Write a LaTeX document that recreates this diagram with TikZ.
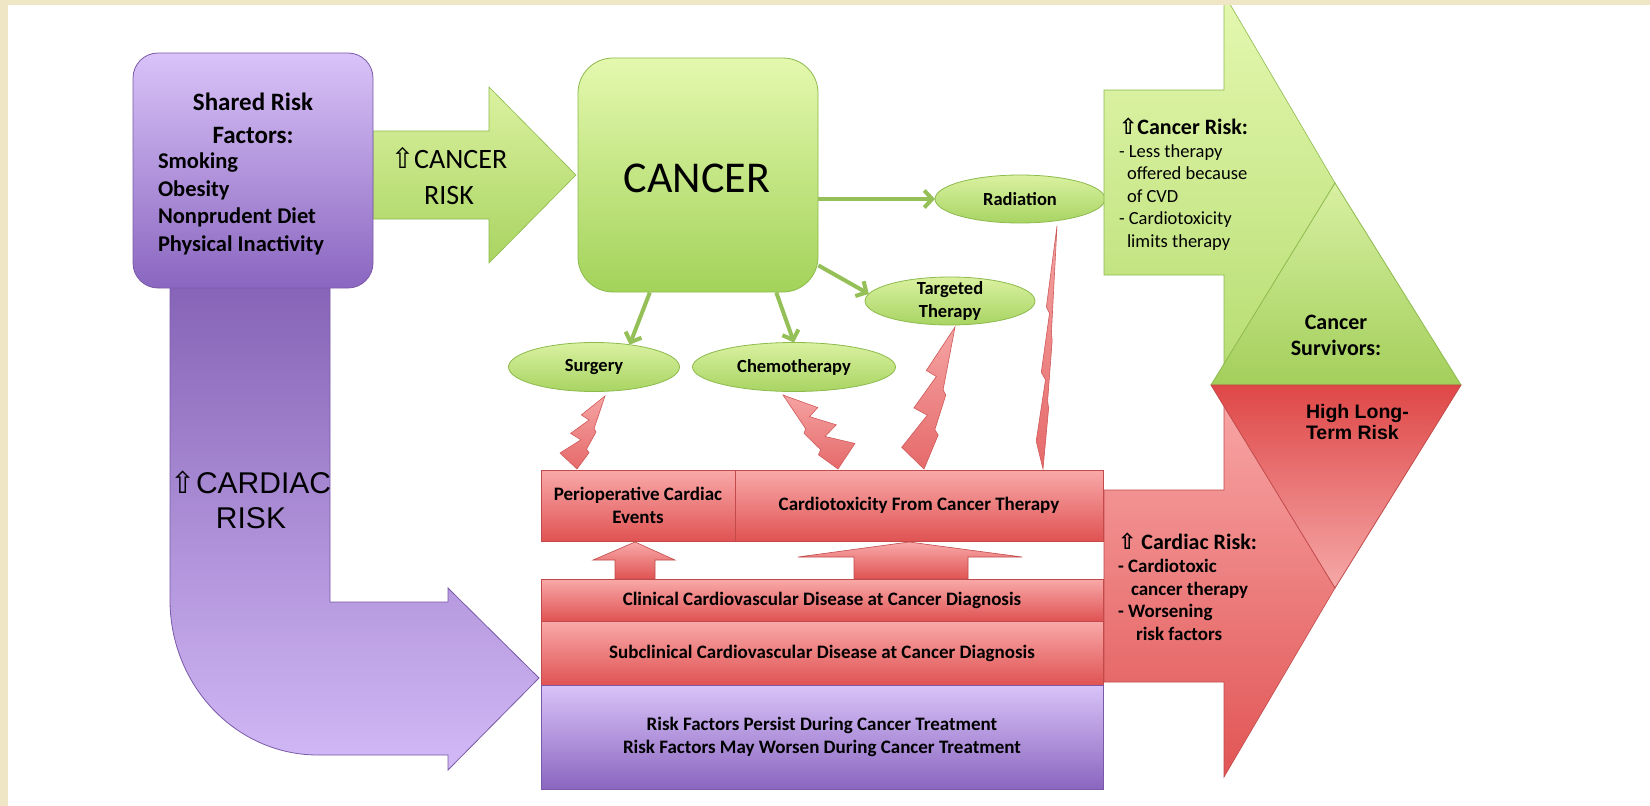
\documentclass[tikz,border=0pt]{standalone}
\usepackage{fontspec}
\setmainfont{Carlito}
\newfontfamily\arialf{Liberation Sans}
\newfontfamily\symf{DejaVu Sans}
\usetikzlibrary{calc,arrows.meta,shapes.geometric}
\newcommand\uparr{{\symf ⇧}}
\definecolor{beige}{HTML}{EFE6C6}
\definecolor{ptop}{HTML}{D9C3F8}
\definecolor{pbot}{HTML}{8A66C0}
\definecolor{pedge}{HTML}{7A5AA8}
\definecolor{coltop}{HTML}{8461B5}
\definecolor{colbot}{HTML}{D2B9F6}
\definecolor{gtop}{HTML}{E4F8AE}
\definecolor{gbot}{HTML}{A3D35A}
\definecolor{etop}{HTML}{DAF1A0}
\definecolor{ebot}{HTML}{A8D463}
\definecolor{gedge}{HTML}{8DBA4C}
\definecolor{gline}{HTML}{95C057}
\definecolor{rtop}{HTML}{F9A9A9}
\definecolor{rbot}{HTML}{E05353}
\definecolor{redge}{HTML}{C24A4A}
\definecolor{bolttop}{HTML}{F5A3A3}
\definecolor{boltbot}{HTML}{E66A6A}
\definecolor{boltedge}{HTML}{CF5959}
\definecolor{bgtop}{HTML}{E4F8B0}
\definecolor{bgbot}{HTML}{B8DD73}
\definecolor{tgtop}{HTML}{D8F0A2}
\definecolor{tgbot}{HTML}{A3CF5B}
\definecolor{trtop}{HTML}{DF4747}
\definecolor{trbot}{HTML}{F5A8A8}
\definecolor{ratop}{HTML}{F8A5A5}
\definecolor{rabot}{HTML}{E15555}
\definecolor{crtop}{HTML}{DBF1A0}
\definecolor{crbot}{HTML}{A9D461}
\newcommand\lbolt[3]{%
  \path[bolt] (#2)
   -- ($(#1)!0.666!(#2)!{0.85*(#3)}!90:(#2)$)
   -- ($(#1)!0.64!(#2)!{0.35*(#3)}!90:(#2)$)
   -- ($(#1)!0.396!(#2)!{1.04*(#3)}!90:(#2)$)
   -- ($(#1)!0.367!(#2)!{0.375*(#3)}!90:(#2)$)
   -- ($(#1)!0.113!(#2)!{1.2*(#3)}!90:(#2)$)
   -- (#1)
   -- ($(#1)!0.25!(#2)!{-0.3*(#3)}!90:(#2)$)
   -- ($(#1)!0.28!(#2)!{-0.1*(#3)}!90:(#2)$)
   -- ($(#1)!0.53!(#2)!{-0.25*(#3)}!90:(#2)$)
   -- ($(#1)!0.56!(#2)!{-0.08*(#3)}!90:(#2)$)
   -- cycle;}
\begin{document}
\begin{tikzpicture}[x=1pt,y=-1pt,
  lbl/.style={inner sep=0pt, outer sep=0pt, text=black},
  ell/.style={ellipse, draw=gedge, line width=0.8pt, top color=etop, bottom color=ebot, inner sep=0pt, outer sep=0pt, minimum height=48pt},
  elltext/.style={lbl, font=\bfseries\fontsize{18.5}{22.5}\selectfont, align=center},
  redbox/.style={rectangle, draw=redge, line width=0.8pt, top color=rtop, bottom color=rbot, inner sep=0pt, outer sep=0pt, font=\bfseries\fontsize{19}{23}\selectfont, align=center},
  purpbox/.style={rectangle, draw=pedge, line width=0.8pt, top color=ptop, bottom color=pbot, inner sep=0pt, outer sep=0pt, font=\bfseries\fontsize{19}{23}\selectfont, align=center},
  conn/.style={draw=gline, line width=4pt, -{Straight Barb[length=8pt,width=17pt]}},
  bolt/.style={draw=boltedge, line width=0.6pt, top color=bolttop, bottom color=boltbot},
  blockarrow/.style={draw=redge, line width=0.6pt, top color=rtop, bottom color=rbot},
]
\useasboundingbox (0,0) rectangle (1650,806);
\fill[beige] (0,0) rectangle (1650,806);
\fill[white] (8,5) rectangle (1650,806);

% purple L arrow
\path[draw=pedge, line width=0.8pt, top color=coltop, bottom color=colbot]
  (170,270) -- (330,270) -- (330,602) -- (448,602) -- (448,588) -- (539,678)
  -- (448,770) -- (448,755) -- (318,755)
  arc[start angle=90, end angle=180, x radius=148, y radius=155] -- cycle;
\node[lbl, font=\arialf\fontsize{30}{35}\selectfont, align=center] (cardrisk) at (251,499.5) {\uparr CARDIAC\\RISK};

% cancer risk arrow
\path[draw=gedge, line width=0.6pt, top color=crtop, bottom color=crbot]
  (373,131) -- (489,131) -- (489,87) -- (576,175) -- (489,263) -- (489,219) -- (373,219) -- cycle;
\node[lbl, font=\fontsize{28}{36}\selectfont, align=center] (crtext) at (449,176) {\uparr CANCER\\RISK};

% shared risk factors box
\node[draw=pedge, line width=0.8pt, top color=ptop, bottom color=pbot, rounded corners=25pt,
  minimum width=240pt, minimum height=235pt, inner sep=0pt] (shared) at (253,170.5) {};
\node[lbl, font=\bfseries\fontsize{25}{33}\selectfont, align=center] (srtitle) at (253,118.5) {Shared Risk\\Factors:};
\node[lbl, font=\bfseries\fontsize{22.5}{27.5}\selectfont, align=left, anchor=west] (sritems) at (158,204)
  {Smoking\\Obesity\\Nonprudent Diet\\Physical Inactivity};

% cancer box
\node[draw=gedge, line width=0.8pt, top color=gtop, bottom color=gbot, rounded corners=35pt,
  minimum width=240pt, minimum height=234pt, inner sep=0pt] (cancer) at (698,175) {};
\node[lbl, font=\fontsize{44}{50}\selectfont] (cancert) at (697,178.5) {CANCER};

% treatment ellipses
\node[ell, minimum width=170pt] (rad) at (1020,199) {};
\node[elltext] (radt) at (rad) {Radiation};
\node[ell, minimum width=170pt] (targ) at (950,301) {};
\node[elltext] (targt) at (targ) {Targeted\\Therapy};
\node[ell, minimum width=171pt, minimum height=49pt] (surg) at (594,367) {};
\node[elltext] (surgt) at (surg) {Surgery};
\node[ell, minimum width=203pt, minimum height=49pt] (chemo) at (794,367) {};
\node[elltext] (chemot) at (chemo) {Chemotherapy};

% green connectors
\draw[conn] (cancer.east |- rad) -- (rad.west);
\draw[conn] ($(cancer.south west)!0.3!(cancer.south east)$) -- (surg.32);
\draw[conn] ($(cancer.south west)!0.825!(cancer.south east)$) -- (chemo.north);
\draw[conn] ($(cancer.south east)+(0,-27)$) -- (targ.175);

% bottom boxes
\node[redbox, minimum width=194pt, minimum height=71pt] (peri) at (638,505.5) {Perioperative Cardiac\\Events};
\node[redbox, minimum width=368pt, minimum height=71pt] (cardio) at (919,505.5) {Cardiotoxicity From Cancer Therapy};
\node[redbox, minimum width=562pt, minimum height=42pt] (clin) at (822,600) {Clinical Cardiovascular Disease at Cancer Diagnosis};
\node[redbox, minimum width=562pt, minimum height=64pt] (sub) at (822,653) {Subclinical Cardiovascular Disease at Cancer Diagnosis};
\node[purpbox, minimum width=562pt, minimum height=104pt] (rfp) at (822,737)
  {Risk Factors Persist During Cancer Treatment\\Risk Factors May Worsen During Cancer Treatment};

% block up arrows
\path[blockarrow] (615,579) -- (615,560) -- (593,560) -- (635,542) -- (675,560) -- (655,560) -- (655,579) -- cycle;
\path[blockarrow] (854,579) -- (854,557) -- (798,557) -- (909,542) -- (1022,557) -- (968,557) -- (968,579) -- cycle;

% big green arrow and triangle
\begin{scope}
\clip (8,5) rectangle (1650,806);
\path[draw=gedge, line width=0.6pt, top color=bgtop, bottom color=bgbot]
  (1104,90) -- (1224,90) -- (1224,-6) -- (1335,183) -- (1224,372) -- (1224,275) -- (1104,275) -- cycle;
\end{scope}
% red arrow
\path[draw=redge, line width=0.6pt, top color=ratop, bottom color=rabot]
  (1104,490) -- (1224,490) -- (1224,399) -- (1335,588) -- (1224,777) -- (1224,682) -- (1104,682) -- cycle;
% triangles
\path[draw=gedge, line width=0.8pt, top color=tgtop, bottom color=tgbot]
  (1335,183) -- (1461,385) -- (1211,385) -- cycle;
\path[draw=redge, line width=0.8pt, top color=trtop, bottom color=trbot]
  (1211,385) -- (1461,385) -- (1335,588) -- cycle;

\node[lbl, align=left, anchor=west, font=\fontsize{18.5}{22.5}\selectfont] (gatext) at (1119,184)
  {{\bfseries\fontsize{22}{25}\selectfont\uparr Cancer Risk:}\\
   - Less therapy\\
   \hspace*{8pt}offered because\\
   \hspace*{8pt}of CVD\\
   - Cardiotoxicity\\
   \hspace*{8pt}limits therapy};
\node[lbl, align=left, anchor=west, font=\bfseries\fontsize{19}{22.7}\selectfont] (ratext) at (1118,587)
  {{\fontsize{22}{25}\selectfont\uparr\ Cardiac Risk:}\\
   - Cardiotoxic\\
   \hspace*{13pt}cancer therapy\\
   - Worsening\\
   \hspace*{18pt}risk factors};
\node[lbl, align=center, font=\bfseries\fontsize{22}{26}\selectfont] (survt) at (1336,335) {Cancer\\Survivors:};
\node[lbl, align=left, anchor=west, font=\arialf\bfseries\fontsize{19.5}{21.5}\selectfont] (hltr) at (1306,422) {High Long-\\Term Risk};

% lightning bolts
\coordinate (bsb) at (577,469); \coordinate (bst) at (605,396);
\coordinate (bcb) at (838,469); \coordinate (bct) at (783,395);
\coordinate (btb) at (924,469); \coordinate (btt) at (955,327);
\coordinate (brb) at (1043,469); \coordinate (brt) at (1057,226);
\lbolt{bsb}{bst}{18pt}
\lbolt{bcb}{bct}{-24pt}
\lbolt{btb}{btt}{22pt}
\lbolt{brb}{brt}{7pt}
\end{tikzpicture}
\end{document}
